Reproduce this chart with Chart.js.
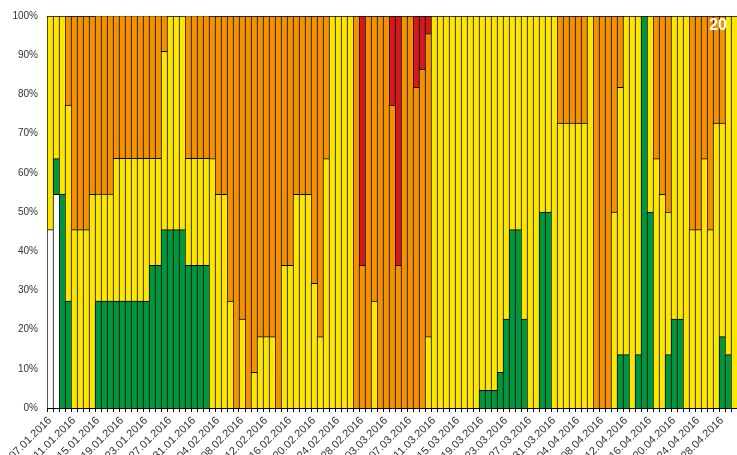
<!DOCTYPE html>
<html>
<head>
<meta charset="utf-8">
<script src="https://cdn.jsdelivr.net/npm/chart.js@4"></script>
<style>
  html, body { margin: 0; padding: 0; background: #fff; overflow: hidden; }
  #wrap { width: 737px; height: 455px; }
</style>
</head>
<body>
<div id="wrap"><canvas id="chart1" width="737" height="455"></canvas></div>
<script>
// one bar per day, 07.01.2016 - 30.04.2016
const dates = [
  '07.01.2016', '08.01.2016', '09.01.2016', '10.01.2016', '11.01.2016', '12.01.2016', '13.01.2016', '14.01.2016', '15.01.2016', '16.01.2016',
  '17.01.2016', '18.01.2016', '19.01.2016', '20.01.2016', '21.01.2016', '22.01.2016', '23.01.2016', '24.01.2016', '25.01.2016', '26.01.2016',
  '27.01.2016', '28.01.2016', '29.01.2016', '30.01.2016', '31.01.2016',
  '01.02.2016', '02.02.2016', '03.02.2016', '04.02.2016', '05.02.2016', '06.02.2016', '07.02.2016', '08.02.2016', '09.02.2016', '10.02.2016',
  '11.02.2016', '12.02.2016', '13.02.2016', '14.02.2016', '15.02.2016', '16.02.2016', '17.02.2016', '18.02.2016', '19.02.2016', '20.02.2016',
  '21.02.2016', '22.02.2016', '23.02.2016', '24.02.2016', '25.02.2016', '26.02.2016', '27.02.2016', '28.02.2016', '29.02.2016',
  '01.03.2016', '02.03.2016', '03.03.2016', '04.03.2016', '05.03.2016', '06.03.2016', '07.03.2016', '08.03.2016', '09.03.2016', '10.03.2016',
  '11.03.2016', '12.03.2016', '13.03.2016', '14.03.2016', '15.03.2016', '16.03.2016', '17.03.2016', '18.03.2016', '19.03.2016', '20.03.2016',
  '21.03.2016', '22.03.2016', '23.03.2016', '24.03.2016', '25.03.2016', '26.03.2016', '27.03.2016', '28.03.2016', '29.03.2016', '30.03.2016',
  '31.03.2016',
  '01.04.2016', '02.04.2016', '03.04.2016', '04.04.2016', '05.04.2016', '06.04.2016', '07.04.2016', '08.04.2016', '09.04.2016', '10.04.2016',
  '11.04.2016', '12.04.2016', '13.04.2016', '14.04.2016', '15.04.2016', '16.04.2016', '17.04.2016', '18.04.2016', '19.04.2016', '20.04.2016',
  '21.04.2016', '22.04.2016', '23.04.2016', '24.04.2016', '25.04.2016', '26.04.2016', '27.04.2016', '28.04.2016', '29.04.2016', '30.04.2016'
];

// shares in % per day, stacked bottom to top: white, green, yellow, orange, red
const whiteShare = [
  45.5, 54.5, 0, 0, 0, 0, 0, 0, 0, 0,
  0, 0, 0, 0, 0, 0, 0, 0, 0, 0,
  0, 0, 0, 0, 0, 0, 0, 0, 0, 0,
  0, 0, 0, 0, 0, 0, 0, 0, 0, 0,
  0, 0, 0, 0, 0, 0, 0, 0, 0, 0,
  0, 0, 0, 0, 0, 0, 0, 0, 0, 0,
  0, 0, 0, 0, 0, 0, 0, 0, 0, 0,
  0, 0, 0, 0, 0, 0, 0, 0, 0, 0,
  0, 0, 0, 0, 0, 0, 0, 0, 0, 0,
  0, 0, 0, 0, 0, 0, 0, 0, 0, 0,
  0, 0, 0, 0, 0, 0, 0, 0, 0, 0,
  0, 0, 0, 0, 0
];

const greenShare = [
  0, 9.1, 54.5, 27.3, 0, 0, 0, 0, 27.3, 27.3,
  27.3, 27.3, 27.3, 27.3, 27.3, 27.3, 27.3, 36.4, 36.4, 45.5,
  45.5, 45.5, 45.5, 36.4, 36.4, 36.4, 36.4, 0, 0, 0,
  0, 0, 0, 0, 0, 0, 0, 0, 0, 0,
  0, 0, 0, 0, 0, 0, 0, 0, 0, 0,
  0, 0, 0, 0, 0, 0, 0, 0, 0, 0,
  0, 0, 0, 0, 0, 0, 0, 0, 0, 0,
  0, 0, 4.5, 4.5, 4.5, 9.1, 22.7, 45.5, 45.5, 22.7,
  0, 0, 50, 50, 0, 0, 0, 0, 0, 0,
  0, 0, 0, 0, 0, 13.6, 13.6, 0, 13.6, 100,
  50, 0, 0, 13.6, 22.7, 22.7, 0, 0, 0, 0,
  0, 0, 18.2, 13.6, 0
];

const yellowShare = [
  54.5, 36.4, 45.5, 50, 45.5, 45.5, 45.5, 54.5, 27.3, 27.3,
  27.3, 36.4, 36.4, 36.4, 36.4, 36.4, 36.4, 27.3, 27.3, 45.5,
  54.5, 54.5, 54.5, 27.3, 27.3, 27.3, 27.3, 63.6, 54.5, 54.5,
  27.3, 0, 22.7, 0, 9.1, 18.2, 18.2, 18.2, 0, 36.4,
  36.4, 54.5, 54.5, 54.5, 31.8, 18.2, 63.6, 100, 100, 100,
  100, 0, 0, 0, 27.3, 0, 0, 0, 0, 0,
  0, 0, 0, 18.2, 100, 100, 100, 100, 100, 100,
  100, 100, 95.5, 95.5, 95.5, 90.9, 77.3, 54.5, 54.5, 77.3,
  100, 100, 50, 50, 100, 72.7, 72.7, 72.7, 72.7, 72.7,
  100, 0, 0, 0, 50, 68.2, 86.4, 100, 86.4, 0,
  50, 63.6, 54.5, 36.4, 77.3, 77.3, 100, 45.5, 45.5, 63.6,
  45.5, 72.7, 54.5, 86.4, 100
];

const orangeShare = [
  0, 0, 0, 22.7, 54.5, 54.5, 54.5, 45.5, 45.5, 45.5,
  45.5, 36.4, 36.4, 36.4, 36.4, 36.4, 36.4, 36.4, 36.4, 9.1,
  0, 0, 0, 36.4, 36.4, 36.4, 36.4, 36.4, 45.5, 45.5,
  72.7, 100, 77.3, 100, 90.9, 81.8, 81.8, 81.8, 100, 63.6,
  63.6, 45.5, 45.5, 45.5, 68.2, 81.8, 36.4, 0, 0, 0,
  0, 100, 36.4, 100, 72.7, 100, 100, 77.3, 36.4, 100,
  100, 81.8, 86.4, 77.3, 0, 0, 0, 0, 0, 0,
  0, 0, 0, 0, 0, 0, 0, 0, 0, 0,
  0, 0, 0, 0, 0, 27.3, 27.3, 27.3, 27.3, 27.3,
  0, 100, 100, 100, 50, 18.2, 0, 0, 0, 0,
  0, 36.4, 45.5, 50, 0, 0, 0, 54.5, 54.5, 36.4,
  54.5, 27.3, 27.3, 0, 0
];

const redShare = [
  0, 0, 0, 0, 0, 0, 0, 0, 0, 0,
  0, 0, 0, 0, 0, 0, 0, 0, 0, 0,
  0, 0, 0, 0, 0, 0, 0, 0, 0, 0,
  0, 0, 0, 0, 0, 0, 0, 0, 0, 0,
  0, 0, 0, 0, 0, 0, 0, 0, 0, 0,
  0, 0, 63.6, 0, 0, 0, 0, 22.7, 63.6, 0,
  0, 18.2, 13.6, 4.5, 0, 0, 0, 0, 0, 0,
  0, 0, 0, 0, 0, 0, 0, 0, 0, 0,
  0, 0, 0, 0, 0, 0, 0, 0, 0, 0,
  0, 0, 0, 0, 0, 0, 0, 0, 0, 0,
  0, 0, 0, 0, 0, 0, 0, 0, 0, 0,
  0, 0, 0, 0, 0
];

const yTicks = [0, 10, 20, 30, 40, 50, 60, 70, 80, 90, 100];
const labelEvery = 4;
const cornerText = '20';

const fontFamily = 'Arial, "Liberation Sans", sans-serif';

function barSet(label, data, color) {
  return {
    label: label,
    data: data,
    backgroundColor: color,
    borderColor: '#000',
    borderWidth: { top: 1, left: 1, right: 0, bottom: 0 },
    borderSkipped: false,
    barPercentage: 1,
    categoryPercentage: 1,
  };
}

// white "20" in the upper right corner
const cornerLabel = {
  id: 'cornerLabel',
  afterDraw(chart) {
    const c = chart.ctx;
    c.save();
    c.font = 'bold 16px ' + fontFamily;
    c.fillStyle = '#fff';
    c.textAlign = 'right';
    c.textBaseline = 'middle';
    c.fillText(cornerText, chart.chartArea.right - 10, chart.chartArea.top + 10);
    c.restore();
  }
};

const ctx = document.getElementById('chart1');

new Chart(ctx, {
  type: 'bar',
  data: {
    labels: dates,
    datasets: [
      barSet('white', whiteShare, '#ffffff'),
      barSet('green', greenShare, '#009640'),
      barSet('yellow', yellowShare, '#ffe600'),
      barSet('orange', orangeShare, '#f39200'),
      barSet('red', redShare, '#d2191e'),
    ]
  },
  options: {
    responsive: false,
    animation: false,
    devicePixelRatio: 1,
    layout: { padding: { top: 16, right: 0, bottom: 0, left: 0 } },
    plugins: {
      legend: { display: false },
      tooltip: { enabled: false },
    },
    scales: {
      x: {
        stacked: true,
        offset: true,
        grid: {
          display: true,
          drawOnChartArea: false,
          drawTicks: true,
          tickLength: 4,
          color: '#000',
          offset: true,
        },
        border: { display: true, color: '#000', width: 1 },
        ticks: {
          autoSkip: false,
          maxRotation: 45,
          minRotation: 45,
          padding: 2,
          color: '#333',
          font: { family: fontFamily, size: 11 },
          callback: function(value, index) {
            return index % labelEvery === 0 ? dates[index] : '';
          }
        },
        afterFit: function(scale) {
          scale.height = 47;
          // plot runs right to the canvas edge, like the original
          scale.paddingLeft = 0;
          scale.paddingRight = 0;
        }
      },
      y: {
        stacked: true,
        min: 0,
        max: 100,
        grid: { display: false, drawTicks: false },
        border: { display: false },
        afterBuildTicks: function(scale) {
          scale.ticks = yTicks.map(v => ({ value: v }));
        },
        ticks: {
          padding: 9,
          color: '#333',
          font: { family: fontFamily, size: 10 },
          callback: function(value) { return value + '%'; }
        },
        afterFit: function(scale) { scale.width = 47; }
      }
    }
  },
  plugins: [cornerLabel]
});
</script>
</body>
</html>
